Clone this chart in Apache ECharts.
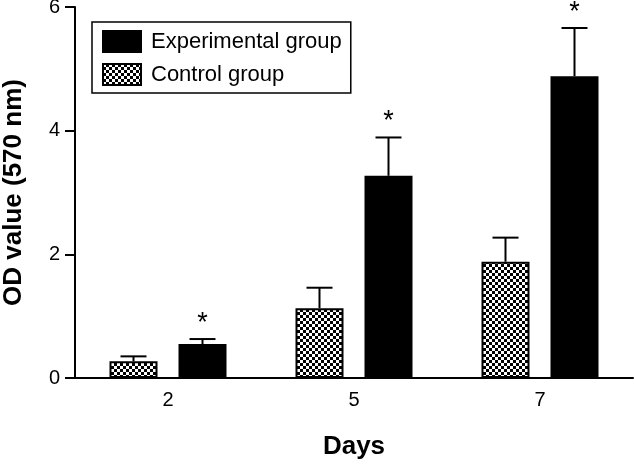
<!DOCTYPE html>
<html>
<head>
<meta charset="utf-8">
<script src="https://cdn.jsdelivr.net/npm/echarts@6/dist/echarts.min.js"></script>
<style>html,body{margin:0;padding:0;background:#fff}#c{width:634px;height:465px}</style>
</head>
<body>
<div id="c"></div>
<script>
const categories = ['2', '5', '7'];
const seriesNames = ['Control group', 'Experimental group'];
const controlMean = [0.27, 1.13, 1.88];
const controlErr = [0.08, 0.33, 0.39];
const expMean = [0.55, 3.27, 4.88];
const expErr = [0.08, 0.62, 0.78];
const expStar = [true, true, true];
const yTicks = { min: 0, max: 6, interval: 2 };

function checker() {
  const c = document.createElement('canvas');
  c.width = 6; c.height = 6;
  const ctx = c.getContext('2d');
  ctx.fillStyle = '#000'; ctx.fillRect(0, 0, 6, 6);
  ctx.fillStyle = '#fff';
  ctx.fillRect(0, 0, 3, 3);
  ctx.fillRect(3, 3, 3, 3);
  return c;
}
const pattern = { image: checker(), repeat: 'repeat' };

const BAR_W = 48, BAR_GAP = 21;
const OFFSET = (BAR_W + BAR_GAP) / 2;

function errSeries(means, errs, side, stars) {
  return {
    type: 'custom',
    silent: true,
    z: 5,
    data: means.map((m, i) => [i, m, m + errs[i], stars ? (stars[i] ? 1 : 0) : 0]),
    renderItem: function (params, api) {
      const i = api.value(0);
      const p0 = api.coord([i, api.value(1)]);
      const p1 = api.coord([i, api.value(2)]);
      const x = p0[0] + side * OFFSET;
      const children = [
        { type: 'line', shape: { x1: x, y1: p0[1], x2: x, y2: p1[1] }, style: { stroke: '#000', lineWidth: 2 } },
        { type: 'line', shape: { x1: x - 13, y1: p1[1], x2: x + 13, y2: p1[1] }, style: { stroke: '#000', lineWidth: 2 } }
      ];
      if (api.value(3)) {
        children.push({ type: 'text', style: { text: '*', x: x, y: p1[1] - 2, textAlign: 'center', textVerticalAlign: 'bottom', font: '27px "Liberation Sans", Arial, sans-serif', fill: '#000' } });
      }
      return { type: 'group', children: children };
    }
  };
}

const chart = echarts.init(document.getElementById('c'), null, { renderer: 'canvas' });
chart.setOption({
  animation: false,
  backgroundColor: '#fff',
  textStyle: { fontFamily: '"Liberation Sans", Arial, sans-serif', color: '#000' },
  grid: { left: 75, right: 1, top: 7, bottom: 87, containLabel: false, outerBoundsMode: 'none' },
  legend: {
    data: ['Experimental group', 'Control group'],
    orient: 'vertical',
    left: 92, top: 22,
    borderColor: '#000', borderWidth: 1.5, borderRadius: 0,
    padding: [8, 9, 7, 10],
    itemGap: 10,
    itemWidth: 38, itemHeight: 21,
    icon: 'rect',
    textStyle: { fontSize: 22, color: '#000', fontFamily: '"Liberation Sans", Arial, sans-serif', padding: [0, 0, 0, 5] }
  },
  xAxis: {
    type: 'category',
    data: categories,
    name: 'Days',
    nameLocation: 'middle',
    nameGap: 56,
    nameTextStyle: { fontSize: 26, fontWeight: 'bold', color: '#000' },
    axisLine: { lineStyle: { color: '#000', width: 2 } },
    axisTick: { alignWithLabel: true, length: 9, lineStyle: { color: '#000', width: 2 } },
    axisLabel: { fontSize: 20, color: '#000', margin: 12 }
  },
  yAxis: {
    type: 'value',
    min: yTicks.min, max: yTicks.max, interval: yTicks.interval,
    name: 'OD value (570 nm)',
    nameLocation: 'middle',
    nameGap: 48,
    nameTextStyle: { fontSize: 26, fontWeight: 'bold', color: '#000' },
    axisLine: { show: true, lineStyle: { color: '#000', width: 2 } },
    axisTick: { show: true, length: 10, lineStyle: { color: '#000', width: 2 } },
    axisLabel: { fontSize: 20, color: '#000', margin: 15 },
    splitLine: { show: false }
  },
  series: [
    {
      name: seriesNames[0], type: 'bar', data: controlMean,
      barWidth: BAR_W, barGap: (BAR_GAP / BAR_W * 100) + '%',
      itemStyle: { color: pattern, borderColor: '#000', borderWidth: 2 }
    },
    {
      name: seriesNames[1], type: 'bar', data: expMean,
      barWidth: BAR_W, barGap: (BAR_GAP / BAR_W * 100) + '%',
      itemStyle: { color: '#000', borderColor: '#000', borderWidth: 2 }
    },
    errSeries(controlMean, controlErr, -1, null),
    errSeries(expMean, expErr, 1, expStar)
  ]
});
</script>
</body>
</html>
